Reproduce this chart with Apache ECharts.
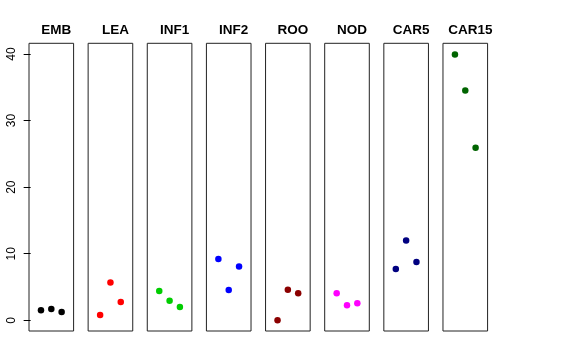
<!DOCTYPE html>
<html><head><meta charset="utf-8">
<script src="https://cdn.jsdelivr.net/npm/echarts@6/dist/echarts.min.js"></script>
<style>html,body{margin:0;padding:0;background:#fff}#c{width:576px;height:360px}</style>
</head><body><div id="c"></div>
<script>
const categories = ['EMB','LEA','INF1','INF2','ROO','NOD','CAR5','CAR15'];
const EMB = [1.5, 1.7, 1.25];
const LEA = [0.8, 5.7, 2.75];
const INF1 = [4.4, 2.95, 2.0];
const INF2 = [9.2, 4.55, 8.1];
const ROO = [0.0, 4.6, 4.05];
const NOD = [4.05, 2.25, 2.55];
const CAR5 = [7.7, 12.0, 8.75];
const CAR15 = [39.9, 34.5, 25.9];
const seriesValues = [EMB, LEA, INF1, INF2, ROO, NOD, CAR5, CAR15];
const colors = ['#000000','#FF0000','#00CD00','#0000FF','#8B0000','#FF00FF','#000080','#006400'];
const yTicks = [0, 10, 20, 30, 40];

const chart = echarts.init(document.getElementById('c'), null, {renderer:'canvas'});
const panelLeft = 29, panelStep = 59.14, panelW = 44.6, panelTop = 43.3, panelH = 287.7;
const grid = [], xAxis = [], yAxis = [], series = [], title = [];
categories.forEach((cat, i) => {
  const left = panelLeft + i * panelStep;
  grid.push({left: left, top: panelTop, width: panelW, height: panelH, show: true,
    borderColor: '#222', borderWidth: 1, backgroundColor: 'transparent', containLabel: false});
  xAxis.push({type: 'value', gridIndex: i, min: -0.16, max: 4.16, show: false});
  yAxis.push({type: 'value', gridIndex: i, min: -1.6, max: 41.6, show: i === 0,
    splitLine: {show: false}, axisLine: {show: false},
    axisTick: {show: true, length: 7, customValues: yTicks, lineStyle: {color: '#000'}},
    axisLabel: {show: true, rotate: 90, margin: 11, customValues: yTicks,
      fontFamily: 'Liberation Sans', fontSize: 12, color: '#000'}});
  series.push({type: 'scatter', xAxisIndex: i, yAxisIndex: i, symbol: 'circle', symbolSize: 6.5,
    itemStyle: {color: colors[i], opacity: 1}, silent: true,
    data: seriesValues[i].map((v, j) => [j + 1, v])});
  title.push({text: cat, left: left + panelW / 2, top: 18, textAlign: 'center',
    textStyle: {fontFamily: 'Liberation Sans', fontWeight: 'bold', fontSize: 13.5, color: '#000'}});
});
chart.setOption({animation: false, backgroundColor: '#fff', title, grid, xAxis, yAxis, series});
</script></body></html>
